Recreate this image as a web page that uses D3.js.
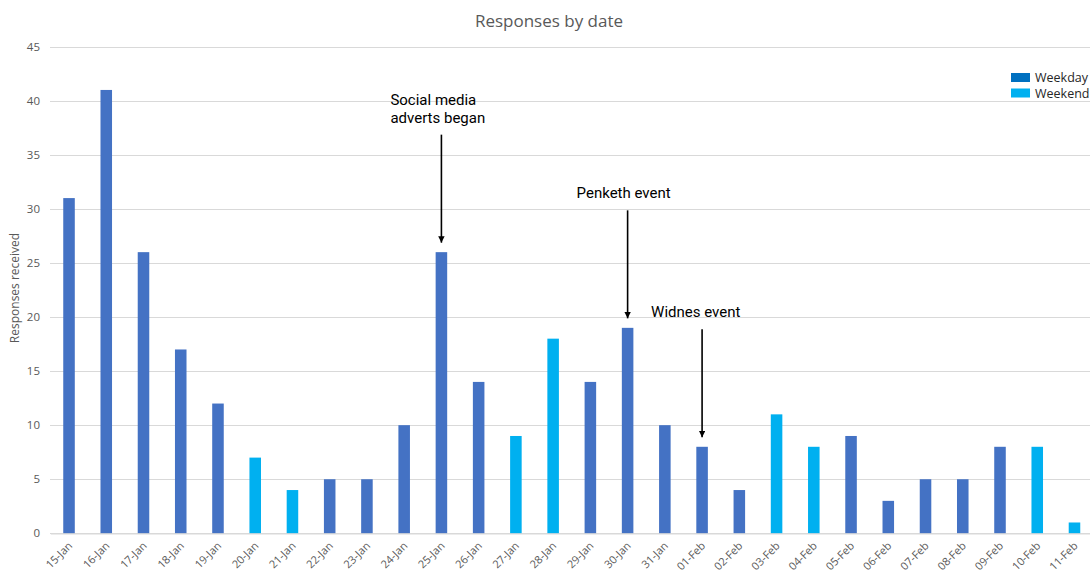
<!DOCTYPE html>
<html>
<head>
<meta charset="utf-8">
<script src="https://cdn.jsdelivr.net/npm/d3@7/dist/d3.min.js"></script>
<style>
  html, body { margin: 0; padding: 0; background: #fff; }
  svg { display: block; font-family: "Open Sans", "Noto Sans", sans-serif; }
</style>
</head>
<body>
<svg id="chart" width="1090" height="575"></svg>
<script>
const dates = ["15-Jan","16-Jan","17-Jan","18-Jan","19-Jan","20-Jan","21-Jan","22-Jan","23-Jan","24-Jan","25-Jan","26-Jan","27-Jan","28-Jan","29-Jan","30-Jan","31-Jan","01-Feb","02-Feb","03-Feb","04-Feb","05-Feb","06-Feb","07-Feb","08-Feb","09-Feb","10-Feb","11-Feb"];
const responses = [31,41,26,17,12,7,4,5,5,10,26,14,9,18,14,19,10,8,4,11,8,9,3,5,5,8,8,1];
const dayType = ["Weekday","Weekday","Weekday","Weekday","Weekday","Weekend","Weekend","Weekday","Weekday","Weekday","Weekday","Weekday","Weekend","Weekend","Weekday","Weekday","Weekday","Weekday","Weekday","Weekend","Weekend","Weekday","Weekday","Weekday","Weekday","Weekday","Weekend","Weekend"];
const yTicks = [0,5,10,15,20,25,30,35,40,45];
const legendLabels = ["Weekday","Weekend"];
const annotationDates = ["25-Jan", "30-Jan", "01-Feb"];
const annotationLines = [["Social media", "adverts began"], ["Penketh event"], ["Widnes event"]];

const svg = d3.select("#chart");
const barColor = {Weekday: "#4472C4", Weekend: "#00B0F0"};
const legendColor = {Weekday: "#0070C0", Weekend: "#00B0F0"};

const x = d3.scaleBand().domain(dates).range([50.4, 1093.1]).paddingInner(0.69).paddingOuter(0.345);
const y = d3.scaleLinear().domain([0, 45]).range([533.3, 46.7]);

// gridlines
svg.append("g").selectAll("line").data(yTicks).join("line")
  .attr("x1", 50).attr("x2", 1090)
  .attr("y1", d => Math.round(y(d)) + 0.5).attr("y2", d => Math.round(y(d)) + 0.5)
  .attr("stroke", "#d9d9d9").attr("stroke-width", 1);

// y tick labels
const yAxis = d3.axisLeft(y).tickValues(yTicks).tickSize(0).tickPadding(0);
const yg = svg.append("g").attr("transform", "translate(40,0)").call(yAxis);
yg.select(".domain").remove();
yg.selectAll("text").attr("fill", "#595959").style("font-size", "11.5px").attr("font-family", "Open Sans, sans-serif");

// bars
svg.append("g").selectAll("rect").data(dates).join("rect")
  .attr("x", d => x(d)).attr("width", x.bandwidth())
  .attr("y", (d, i) => y(responses[i])).attr("height", (d, i) => y(0) - y(responses[i]))
  .attr("fill", (d, i) => barColor[dayType[i]]);

// x axis
const xAxis = d3.axisBottom(x).tickSize(0).tickPadding(0);
const xg = svg.append("g").attr("transform", `translate(0,${Math.round(y(0)) + 0.5})`).call(xAxis);
xg.select(".domain").attr("stroke", "#d9d9d9");
xg.selectAll("text")
  .attr("fill", "#595959").style("font-size", "11px").attr("font-family", "Open Sans, sans-serif")
  .attr("text-anchor", "end").attr("dy", null).attr("y", 0)
  .attr("transform", "translate(4,13) rotate(-45)");

// title
svg.append("text").attr("x", 549).attr("y", 27).attr("text-anchor", "middle")
  .attr("fill", "#595959").style("font-size", "17px").text("Responses by date");

// y axis title
svg.append("text").attr("transform", "translate(19,288) rotate(-90)").attr("text-anchor", "middle")
  .attr("fill", "#595959").style("font-size", "12px").text("Responses received");

// legend
const lg = svg.append("g");
legendLabels.forEach((lab, i) => {
  lg.append("rect").attr("x", 1011).attr("y", 73 + i * 15.5).attr("width", 19).attr("height", 9).attr("fill", legendColor[lab]);
  lg.append("text").attr("x", 1035).attr("y", 82 + i * 15.5).attr("fill", "#262626").style("font-size", "12.5px").text(lab);
});

// annotations
svg.append("defs").append("marker").attr("id", "arrow").attr("viewBox", "0 0 10 10")
  .attr("refX", 10).attr("refY", 5).attr("markerWidth", 4).attr("markerHeight", 4)
  .attr("markerUnits", "strokeWidth").attr("orient", "auto")
  .append("path").attr("d", "M0,0 L10,5 L0,10 Z").attr("fill", "#000");

annotationDates.forEach((dt, j) => {
  const i = dates.indexOf(dt);
  const cx = x(dt) + x.bandwidth() / 2;
  const tipY = y(responses[i]) - 9.5;
  const startY = tipY - 108;
  svg.append("line").attr("x1", cx).attr("x2", cx).attr("y1", startY).attr("y2", tipY)
    .attr("stroke", "#000").attr("stroke-width", 1.6).attr("marker-end", "url(#arrow)");
  const lines = annotationLines[j];
  const n = lines.length;
  lines.forEach((ln, k) => {
    svg.append("text").attr("x", cx - 51).attr("y", startY - 12 - (n - 1 - k) * 17.8)
      .attr("fill", "#000").attr("font-family", "Roboto, sans-serif").style("font-size", "15px").text(ln);
  });
});
</script>
</body>
</html>
